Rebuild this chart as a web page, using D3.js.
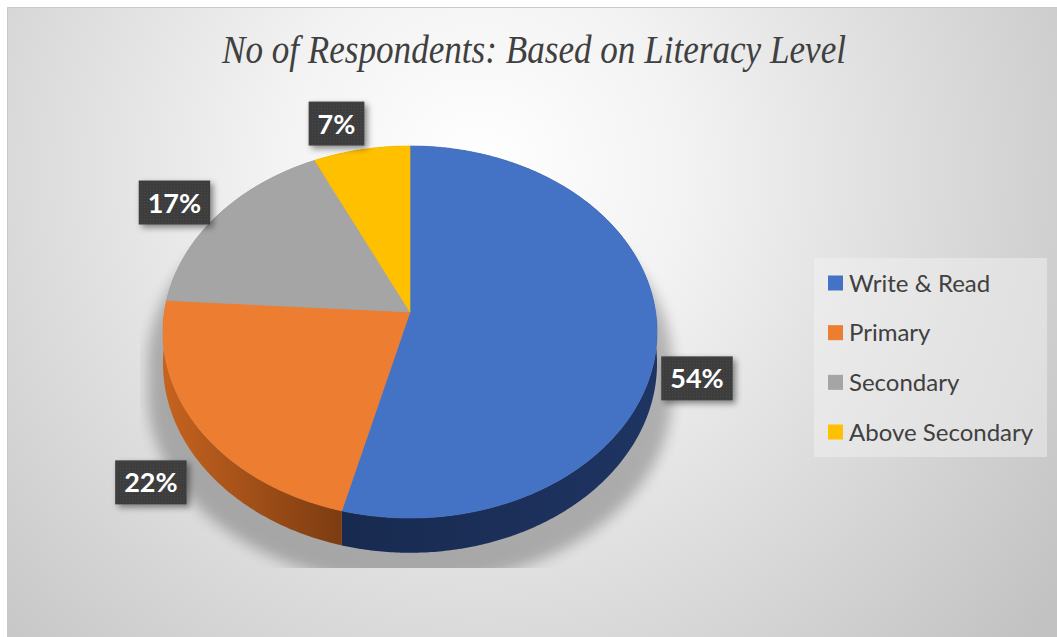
<!DOCTYPE html>
<html>
<head>
<meta charset="utf-8">
<script src="https://cdn.jsdelivr.net/npm/d3@7"></script>
<style>
  html, body { margin: 0; padding: 0; background: #ffffff; }
  svg { display: block; }
</style>
</head>
<body>
<svg id="chart" width="1057" height="637"></svg>
<script>
// Literacy level categories and their share of respondents (percent)
const categories = ["Write & Read", "Primary", "Secondary", "Above Secondary"];
const values = [54, 22, 17, 7];
const topColors = ["#4472c4", "#ed7d31", "#a5a5a5", "#ffc000"];
const wallColors = [["#182a4f", "#1e3462"], ["#c6631f", "#7c3c11"], ["#7c7c7c", "#6a6a6a"], ["#bf9000", "#a07800"]];
// Label box offsets from each slice's rim point (layout only)
const labelOffsets = [[40, 43], [-47, 55], [-44, -12], [-25, -26]];
const title = "No of Respondents: Based on Literacy Level";

const W = 1057, H = 637;
const svg = d3.select("#chart");
const defs = svg.append("defs");

// Background: soft radial grey gradient inside a thin frame
const bg = defs.append("radialGradient").attr("id", "bgGrad")
  .attr("gradientUnits", "userSpaceOnUse")
  .attr("cx", 480).attr("cy", 170).attr("r", 720);
bg.append("stop").attr("offset", 0).attr("stop-color", "#ffffff");
bg.append("stop").attr("offset", 0.28).attr("stop-color", "#f3f3f3");
bg.append("stop").attr("offset", 1).attr("stop-color", "#c2c2c2");

svg.append("rect").attr("x", 7).attr("y", 7).attr("width", W - 7).attr("height", H - 7)
  .attr("fill", "url(#bgGrad)");
svg.append("path").attr("d", `M7.5,${H}V7.5H${W}`).attr("fill", "none")
  .attr("stroke", "#c9c9c9").attr("stroke-width", 1);

// Title
svg.append("text")
  .attr("x", 222).attr("y", 63)
  .attr("textLength", 624).attr("lengthAdjust", "spacingAndGlyphs")
  .attr("font-family", "'Liberation Serif', 'DejaVu Serif', serif")
  .attr("font-style", "italic")
  .attr("font-size", 39)
  .attr("fill", "#404040")
  .text(title);

// Perspective projection of a tilted disc
const cx = 410, cy = 312, Rx = 245.6, Ry = 183.9, k = 0.1075, D = 31;
function proj(theta, f, d) {
  const X = f * Math.sin(theta), Z = -f * Math.cos(theta), w = 1 - k * Z;
  return [cx + Rx * X / w, cy + (Ry * Z + D * d) / w];
}
function arcPts(a0, a1, d) {
  const n = Math.max(4, Math.ceil(Math.abs(a1 - a0) / 0.01));
  return d3.range(n + 1).map(i => proj(a0 + (a1 - a0) * i / n, 1, d));
}
const line = d3.line().curve(d3.curveLinear);

const arcs = d3.pie().sort(null).value(d => d)(values);

// Soft cast shadow under the pie
const shBlur = defs.append("filter").attr("id", "shBlur")
  .attr("x", "-20%").attr("y", "-20%").attr("width", "140%").attr("height", "140%");
shBlur.append("feGaussianBlur").attr("stdDeviation", 7);
defs.append("clipPath").attr("id", "shClip")
  .append("rect").attr("x", 140).attr("y", 0).attr("width", 545).attr("height", 568);
const full = arcPts(0, 2 * Math.PI, 1);
const shadowG = svg.append("g").attr("clip-path", "url(#shClip)")
  .append("g").attr("filter", "url(#shBlur)").attr("opacity", 0.25);
d3.range(0, 34, 4).forEach(dy => {
  shadowG.append("path")
    .attr("d", line(full.map(p => [cx + (p[0] - cx) * 1.06, p[1] + dy])) + "Z")
    .attr("fill", "#000");
});

// Outer side walls
arcs.forEach((a, i) => {
  const top = arcPts(a.startAngle, a.endAngle, 0);
  const bot = arcPts(a.startAngle, a.endAngle, 1).reverse();
  const xs = top.map(p => p[0]).concat(bot.map(p => p[0]));
  const g = defs.append("linearGradient").attr("id", "wall" + i)
    .attr("gradientUnits", "userSpaceOnUse")
    .attr("x1", d3.min(xs)).attr("x2", d3.max(xs)).attr("y1", 0).attr("y2", 0);
  g.append("stop").attr("offset", 0).attr("stop-color", wallColors[i][0]);
  g.append("stop").attr("offset", 1).attr("stop-color", wallColors[i][1]);
  svg.append("path")
    .attr("d", line(top.concat(bot)) + "Z")
    .attr("fill", `url(#wall${i})`);
});

// Top faces
arcs.forEach((a, i) => {
  const pts = [[cx, cy]].concat(arcPts(a.startAngle, a.endAngle, 0));
  svg.append("path")
    .attr("d", line(pts) + "Z")
    .attr("fill", topColors[i])
    .attr("stroke", topColors[i]).attr("stroke-width", 0.6);
});

// Data labels: dark boxes with white percentages
const boxShadow = defs.append("filter").attr("id", "boxShadow")
  .attr("x", "-30%").attr("y", "-30%").attr("width", "170%").attr("height", "170%");
boxShadow.append("feDropShadow").attr("dx", 3).attr("dy", 3).attr("stdDeviation", 3)
  .attr("flood-color", "#000").attr("flood-opacity", 0.45);
const dots = defs.append("pattern").attr("id", "dots")
  .attr("width", 3).attr("height", 3).attr("patternUnits", "userSpaceOnUse");
dots.append("rect").attr("width", 3).attr("height", 3).attr("fill", "#3d3d3d");
dots.append("rect").attr("width", 1).attr("height", 1).attr("fill", "#4a4a4a");

const fmt = v => v + "%";
arcs.forEach((a, i) => {
  const mid = (a.startAngle + a.endAngle) / 2;
  const rim = proj(mid, 1, 0);
  const lx = rim[0] + labelOffsets[i][0], ly = rim[1] + labelOffsets[i][1];
  const g = svg.append("g");
  const t = g.append("text")
    .attr("x", lx).attr("y", ly + 10)
    .attr("text-anchor", "middle")
    .attr("font-family", "Lato, 'Open Sans', sans-serif")
    .attr("font-weight", 700).attr("font-size", 27)
    .attr("fill", "#ffffff")
    .text(fmt(a.data));
  const bw = t.node().getComputedTextLength() + 18, bh = 44;
  g.insert("rect", "text")
    .attr("x", lx - bw / 2).attr("y", ly - bh / 2)
    .attr("width", bw).attr("height", bh)
    .attr("fill", "url(#dots)")
    .attr("filter", "url(#boxShadow)");
});

// Legend
const legend = svg.append("g");
legend.append("rect").attr("x", 814).attr("y", 258).attr("width", 233).attr("height", 199)
  .attr("fill", "#f4f4f4").attr("fill-opacity", 0.45);
const rowY = d3.scalePoint().domain(categories).range([283, 432]);
categories.forEach((c, i) => {
  const y = rowY(c);
  legend.append("rect").attr("x", 828).attr("y", y - 7.5).attr("width", 15).attr("height", 15)
    .attr("fill", topColors[i]);
  legend.append("text").attr("x", 849).attr("y", y + 8.5)
    .attr("font-family", "Lato, 'Open Sans', sans-serif")
    .attr("font-size", 24).attr("fill", "#404040")
    .text(c);
});
</script>
</body>
</html>
